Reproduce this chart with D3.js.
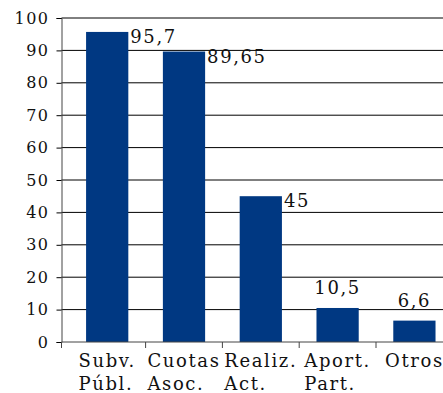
<!DOCTYPE html>
<html>
<head>
<meta charset="utf-8">
<script src="https://cdn.jsdelivr.net/npm/d3@7"></script>
<style>
  html, body { margin: 0; padding: 0; background: #fff; }
  svg { display: block; }
  text { font-family: "DejaVu Serif", serif; fill: #111; }
</style>
</head>
<body>
<svg id="chart" width="443" height="393"></svg>
<script>
// Income sources (line 1 / line 2 of each category label) and amounts
const categoryLine1 = ["Subv.", "Cuotas", "Realiz.", "Aport.", "Otros"];
const categoryLine2 = ["Públ.", "Asoc.", "Act.", "Part.", ""];
const values = [95.7, 89.65, 45, 10.5, 6.6];
const valueLabels = ["95,7", "89,65", "45", "10,5", "6,6"];
const yTicks = [0, 10, 20, 30, 40, 50, 60, 70, 80, 90, 100];
// labels placed beside the bar (true) or above it (false)
const labelBeside = [true, true, true, false, false];

const svg = d3.select("#chart");
const axisX = 61.5;
const plotRight = 443;

const y = d3.scaleLinear().domain([0, 100]).range([342, 18]);
const x = d3.scaleBand().domain(d3.range(values.length)).range([68.8, 452.8]).padding(0);
const barW = x.bandwidth() * 0.55;
const cx = i => x(i) + x.bandwidth() / 2;

// horizontal gridlines
svg.append("g").selectAll("line").data(yTicks.filter(t => t > 0)).join("line")
  .attr("x1", axisX).attr("x2", plotRight)
  .attr("y1", d => y(d)).attr("y2", d => y(d))
  .attr("stroke", "#000").attr("stroke-width", 1);

// bars
svg.append("g").selectAll("rect").data(values).join("rect")
  .attr("x", (d, i) => cx(i) - barW / 2)
  .attr("width", barW)
  .attr("y", d => y(d))
  .attr("height", d => y(0) - y(d))
  .attr("fill", "#003882");

// y axis
const yAxis = d3.axisLeft(y).tickValues(yTicks).tickSize(5).tickPadding(7).tickFormat(d3.format("d"));
const gy = svg.append("g").attr("transform", `translate(${axisX},0)`).call(yAxis);
gy.select(".domain").attr("stroke", "#444");
gy.selectAll(".tick line").attr("stroke", "#000");
gy.selectAll(".tick text")
  .style("font-family", '"DejaVu Serif", serif')
  .style("font-size", "16px")
  .style("letter-spacing", "1.5px")
  .attr("fill", "#222");

// x axis baseline and category boundary ticks
svg.append("line")
  .attr("x1", axisX).attr("x2", plotRight)
  .attr("y1", y(0)).attr("y2", y(0))
  .attr("stroke", "#444");
const boundaries = [axisX].concat(d3.range(1, values.length).map(i => x(i)));
svg.append("g").selectAll("line").data(boundaries).join("line")
  .attr("x1", d => d).attr("x2", d => d)
  .attr("y1", y(0)).attr("y2", y(0) + 6)
  .attr("stroke", "#444");

// category labels: two left-aligned lines, block centred under the bar
const cats = svg.append("g").selectAll("g").data(categoryLine1).join("g");
cats.each(function (d, i) {
  const g = d3.select(this);
  const t1 = g.append("text").attr("y", 367).text(d);
  const t2 = g.append("text").attr("y", 390).text(categoryLine2[i]);
  g.selectAll("text").style("font-size", "18px").style("letter-spacing", "1.6px");
  const w = Math.max(t1.node().getComputedTextLength(), t2.node().getComputedTextLength());
  g.selectAll("text").attr("x", cx(i) - w / 2);
});

// value labels
svg.append("g").selectAll("text").data(values).join("text")
  .attr("x", (d, i) => labelBeside[i] ? cx(i) + barW / 2 + 2 : cx(i))
  .attr("y", (d, i) => labelBeside[i] ? y(d) + 11 : y(d) - 14)
  .attr("text-anchor", (d, i) => labelBeside[i] ? "start" : "middle")
  .style("font-size", "18px")
  .style("letter-spacing", "1.6px")
  .text((d, i) => valueLabels[i]);
</script>
</body>
</html>
